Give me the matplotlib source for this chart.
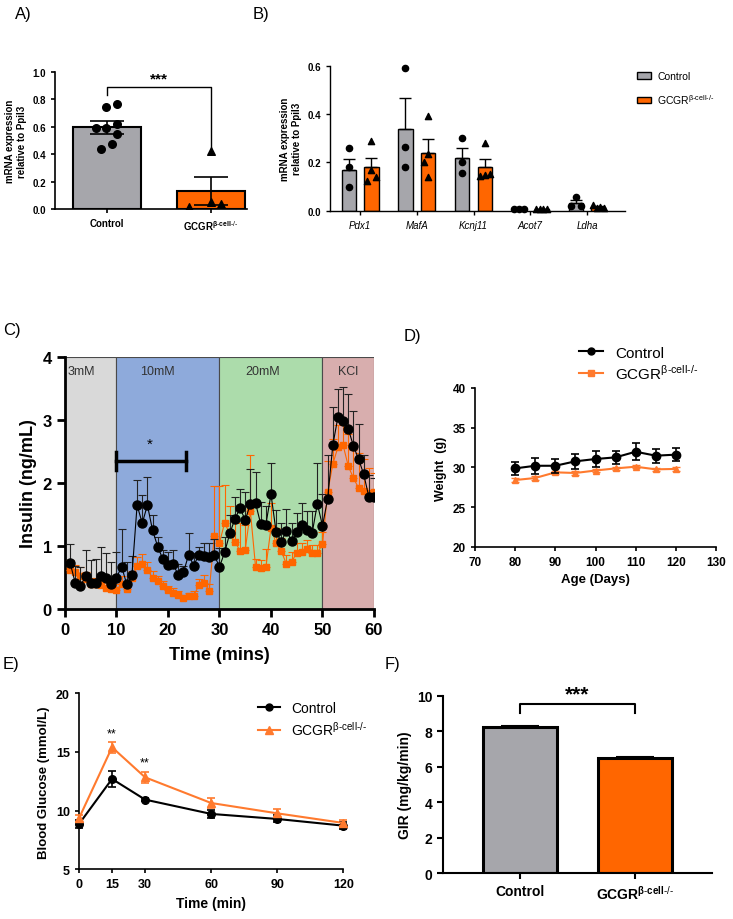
import matplotlib
matplotlib.use('Agg')
import matplotlib.pyplot as plt
from matplotlib.lines import Line2D
from matplotlib.patches import Patch
import numpy as np

plt.rcParams['font.family'] = ['Liberation Sans', 'DejaVu Sans']
plt.rcParams['mathtext.fontset'] = 'custom'
plt.rcParams['mathtext.rm'] = 'Liberation Sans'
plt.rcParams['mathtext.bf'] = 'Liberation Sans:bold'

GRAY = '#a6a6ab'
ORANGE = '#ff6600'
ORANGE_L = '#ff7a2e'
KO = r'GCGR$^{\mathregular{β}\text{-}\mathregular{cell}\text{-/-}}$'

# ---------------- data ----------------
# A
a_groups = ['Control', KO]
a_means = [0.595, 0.134]
a_sem = [0.045, 0.10]
a_ctrl_pts = [0.74, 0.765, 0.59, 0.59, 0.62, 0.55, 0.475, 0.44]
a_ko_pts = [0.426, 0.02, 0.05, 0.04]

# B
b_genes = ['Pdx1', 'MafA', 'Kcnj11', 'Acot7', 'Ldha']
b_ctrl_mean = [0.167, 0.337, 0.22, 0.008, 0.031]
b_ctrl_sem = [0.048, 0.13, 0.04, 0.002, 0.012]
b_ko_mean = [0.18, 0.24, 0.18, 0.006, 0.015]
b_ko_sem = [0.037, 0.055, 0.033, 0.002, 0.004]
b_ctrl_pts = [[0.259, 0.18, 0.097], [0.59, 0.262, 0.18], [0.30, 0.20, 0.158],
              [0.008, 0.008, 0.008], [0.018, 0.058, 0.018]]
b_ko_pts = [[0.29, 0.124, 0.138, 0.17], [0.39, 0.234, 0.20, 0.14],
            [0.28, 0.145, 0.148, 0.15], [0.006, 0.006, 0.006, 0.006],
            [0.022, 0.012, 0.015, 0.010]]

# C (perifusion, minutes 1..60)
c_time = list(range(1, 61))
c_ctrl = [0.73, 0.41, 0.37, 0.52, 0.42, 0.42, 0.53, 0.49, 0.39, 0.50,
          0.67, 0.39, 0.54, 1.65, 1.36, 1.65, 1.25, 0.99, 0.79, 0.70,
          0.71, 0.54, 0.58, 0.86, 0.69, 0.86, 0.84, 0.83, 0.85, 0.67,
          0.90, 1.20, 1.43, 1.60, 1.41, 1.67, 1.68, 1.35, 1.34, 1.82,
          1.22, 1.07, 1.24, 1.08, 1.22, 1.33, 1.25, 1.21, 1.67, 1.32,
          1.75, 2.60, 3.05, 2.98, 2.86, 2.59, 2.38, 2.14, 1.78, 1.78]
c_ctrl_err = [0.30, 0.28, 0.30, 0.42, 0.36, 0.38, 0.45, 0.40, 0.35, 0.40,
              0.60, 0.35, 0.30, 0.40, 0.45, 0.45, 0.25, 0.15, 0.15, 0.20,
              0.23, 0.17, 0.10, 0.35, 0.20, 0.12, 0.20, 0.22, 0.26, 0.30,
              0.25, 0.30, 0.35, 0.30, 0.45, 0.55, 0.50, 0.35, 0.30, 0.50,
              0.35, 0.30, 0.35, 0.28, 0.30, 0.35, 0.30, 0.35, 0.65, 0.50,
              0.70, 0.60, 0.45, 0.55, 0.55, 0.55, 0.55, 0.30, 0.35, 0.30]
c_ko = [0.62, 0.58, 0.52, 0.47, 0.40, 0.40, 0.38, 0.33, 0.32, 0.30,
        0.40, 0.32, 0.50, 0.68, 0.72, 0.62,
        0.50, 0.44, 0.36, 0.30, 0.26, 0.22, 0.17, 0.20, 0.21, 0.38, 0.42, 0.29, 1.16,
        1.05, 1.37, 1.19, 1.07, 0.92, 0.94, 1.55, 0.67, 0.65, 0.66, 1.29,
        1.04, 0.92, 0.71, 0.75, 0.89, 0.90, 0.95, 0.89, 0.89, 1.03,
        1.85, 2.30, 2.57, 2.60, 2.27, 2.08, 1.92, 1.88, 1.84, 1.86]
c_ko_err = [0.15, 0.12, 0.15, 0.12, 0.10, 0.10, 0.12, 0.10, 0.10, 0.10,
            0.12, 0.10, 0.10, 0.15, 0.15, 0.12,
            0.10, 0.08, 0.08, 0.07, 0.07, 0.06, 0.06, 0.06, 0.08, 0.10, 0.12, 0.10, 0.80,
            0.90, 0.60, 0.45, 0.35, 0.45, 0.40, 0.90, 0.12, 0.12, 0.30, 0.40,
            0.25, 0.20, 0.15, 0.15, 0.15, 0.15, 0.15, 0.12, 0.12, 0.20,
            0.50, 0.40, 0.35, 0.40, 0.50, 0.45, 0.55, 0.50, 0.40, 0.30]
c_phases = ['3mM', '10mM', '20mM', 'KCl']
c_phase_edges = [0, 10, 30, 50, 60]
c_phase_colors = ['#d9d9d9', '#8eaadb', '#acdcab', '#d8aeae']

# D
d_age = [80, 85, 90, 95, 100, 105, 110, 115, 120]
d_ctrl = [29.87, 30.2, 30.2, 30.76, 31.05, 31.26, 31.97, 31.47, 31.6]
d_ctrl_err = [0.85, 0.98, 0.85, 0.92, 0.95, 0.85, 1.05, 0.9, 0.85]
d_ko = [28.4, 28.66, 29.37, 29.29, 29.6, 29.87, 30.08, 29.75, 29.8]
d_ko_err = [0.2, 0.2, 0.2, 0.2, 0.2, 0.2, 0.2, 0.2, 0.2]

# E
e_time = [0, 15, 30, 60, 90, 120]
e_ctrl = [8.86, 12.7, 10.94, 9.72, 9.29, 8.72]
e_ctrl_err = [0.35, 0.65, 0.15, 0.35, 0.3, 0.3]
e_ko = [9.35, 15.4, 12.84, 10.65, 9.77, 8.95]
e_ko_err = [0.3, 0.45, 0.45, 0.45, 0.35, 0.25]

# F
f_groups = ['Control', KO]
f_means = [8.25, 6.5]
f_sem = [0.05, 0.05]

# ---------------- figure ----------------
W, H = 733, 920
fig = plt.figure(figsize=(W / 100, H / 100), dpi=100)


def add_ax(l, r, t, b):
    return fig.add_axes([l / W, 1 - b / H, (r - l) / W, (b - t) / H])


def style(ax, lw=1.2, tl=3, fs=7):
    for s in ['top', 'right']:
        ax.spines[s].set_visible(False)
    for s in ['left', 'bottom']:
        ax.spines[s].set_linewidth(lw)
    ax.tick_params(width=lw, length=tl, labelsize=fs, direction='out')
    for lab in ax.get_xticklabels() + ax.get_yticklabels():
        lab.set_fontweight('bold')


def plabel(x, y, s):
    fig.text(x / W, 1 - y / H, s, fontsize=12, va='center', ha='left')


# ---- A ----
axA = add_ax(55, 247, 72.7, 210.3)
xa = np.arange(len(a_groups))
axA.bar(xa, a_means, width=0.66, color=[GRAY, ORANGE], edgecolor='black', lw=1.5, zorder=2)
axA.errorbar(xa, a_means, yerr=a_sem, fmt='none', ecolor='black', capsize=12,
             elinewidth=1.2, capthick=1.2, zorder=3)
a_ctrl_jit = [-0.008, 0.098, -0.11, -0.008, 0.098, 0.098, 0.05, -0.056]
a_ko_jit = [0.0, -0.21, 0.0, 0.1]
axA.scatter(xa[0] + np.array(a_ctrl_jit), a_ctrl_pts, s=30, color='black', zorder=4)
axA.scatter(xa[1] + np.array(a_ko_jit), a_ko_pts, s=30, marker='^', color='black', zorder=4)
axA.set_xlim(-0.505, 1.35)
axA.set_ylim(0, 1.0)
axA.set_yticks([0, 0.2, 0.4, 0.6, 0.8, 1.0])
axA.yaxis.set_major_formatter(matplotlib.ticker.FormatStrFormatter('%.1f'))
axA.set_xticks(xa)
axA.set_xticklabels(a_groups)
style(axA, lw=1.2, fs=7)
axA.set_ylabel('mRNA expression\nrelative to Ppil3', fontsize=7, fontweight='bold')
axA.plot([0, 0, 1, 1], [0.83, 0.89, 0.89, 0.43], color='black', lw=1)
axA.text(0.5, 0.9, '***', ha='center', va='bottom', fontsize=11, fontweight='bold')
plabel(15, 15, 'A)')

# ---- B ----
axB = add_ax(330, 625, 66.7, 211.7)
xb = np.arange(len(b_genes))
off, bw = 0.2, 0.25
axB.bar(xb - off, b_ctrl_mean, width=bw, color=GRAY, edgecolor='black', lw=1, zorder=2)
axB.bar(xb + off, b_ko_mean, width=bw, color=ORANGE, edgecolor='black', lw=1, zorder=2)
axB.errorbar(xb - off, b_ctrl_mean, yerr=[np.zeros(5), b_ctrl_sem], fmt='none',
             ecolor='black', capsize=4, elinewidth=1, capthick=1, zorder=3)
axB.errorbar(xb + off, b_ko_mean, yerr=[np.zeros(5), b_ko_sem], fmt='none',
             ecolor='black', capsize=4, elinewidth=1, capthick=1, zorder=3)
b_ctrl_jit = [[0, 0, 0], [0, 0, 0], [0, 0, 0], [-0.09, 0, 0.09], [-0.09, 0, 0.09]]
b_ko_jit = [[0, -0.08, 0.08, 0], [0, 0, -0.08, 0], [0, -0.09, 0, 0.09],
            [-0.1, -0.03, 0.03, 0.1], [-0.1, -0.03, 0.03, 0.1]]
for i in range(len(b_genes)):
    axB.scatter(xb[i] - off + np.array(b_ctrl_jit[i]), b_ctrl_pts[i], s=20, color='black',
                zorder=4, clip_on=False)
    axB.scatter(xb[i] + off + np.array(b_ko_jit[i]), b_ko_pts[i], s=20, marker='^',
                color='black', zorder=4, clip_on=False)
axB.set_xlim(-0.53, 4.67)
axB.set_ylim(0, 0.6)
axB.set_yticks([0, 0.2, 0.4, 0.6])
axB.yaxis.set_major_formatter(matplotlib.ticker.FormatStrFormatter('%.1f'))
axB.set_xticks(xb)
axB.set_xticklabels(b_genes)
style(axB, lw=1, fs=7)
for lab in axB.get_xticklabels():
    lab.set_fontweight('normal')
    lab.set_fontstyle('italic')
axB.set_ylabel('mRNA expression\nrelative to Ppil3', fontsize=7, fontweight='bold')
hB = [Patch(facecolor=GRAY, edgecolor='black', label='Control'),
      Patch(facecolor=ORANGE, edgecolor='black', label=KO)]
fig.legend(handles=hB, loc='upper left', bbox_to_anchor=(628 / W, 1 - 63 / H),
           frameon=False, fontsize=7.5, handlelength=1.3, handleheight=0.6,
           labelspacing=1.0, handletextpad=0.6)
plabel(253, 15, 'B)')

# ---- C ----
axC = add_ax(65, 374, 358, 610)
for i, name in enumerate(c_phases):
    x0, x1 = c_phase_edges[i], c_phase_edges[i + 1]
    axC.axvspan(x0, x1, facecolor=c_phase_colors[i], edgecolor='#4a4a4a', lw=0.8, zorder=0)
c_lab_x = [0.5, 18, 38.3, 54.9]
c_lab_ha = ['left', 'center', 'center', 'center']
for i, name in enumerate(c_phases):
    axC.text(c_lab_x[i], 3.78, name, ha=c_lab_ha[i], va='center', fontsize=9, color='#333333')
axC.errorbar(c_time, c_ko, yerr=[np.zeros(60), c_ko_err], color=ORANGE, marker='s', ms=5,
             lw=0.8, elinewidth=0.8, capsize=3, capthick=0.8, zorder=3)
axC.errorbar(c_time, c_ctrl, yerr=[np.zeros(60), c_ctrl_err], color='black', marker='o', ms=6.5,
             lw=0.8, elinewidth=0.8, capsize=3, capthick=0.8, ecolor='#222222', zorder=4)
axC.plot([10, 23.4], [2.35, 2.35], color='black', lw=2.5, zorder=5)
axC.plot([10, 10], [2.2, 2.5], color='black', lw=2.5, zorder=5)
axC.plot([23.4, 23.4], [2.2, 2.5], color='black', lw=2.5, zorder=5)
axC.text(16.5, 2.62, '*', ha='center', va='center', fontsize=11)
axC.set_xlim(0, 60)
axC.set_ylim(0, 4)
axC.set_xticks([0, 10, 20, 30, 40, 50, 60])
axC.set_yticks([0, 1, 2, 3, 4])
style(axC, lw=2, tl=6, fs=12)
axC.set_xlabel('Time (mins)', fontsize=13, fontweight='bold', labelpad=6)
axC.set_ylabel('Insulin (ng/mL)', fontsize=13, fontweight='bold')
plabel(3, 331, 'C)')

# ---- D ----
axD = add_ax(475, 716, 389, 547.7)
axD.errorbar(d_age, d_ko, yerr=d_ko_err, color=ORANGE_L, marker='^', ms=5, lw=1.5,
             elinewidth=1, capsize=3, zorder=3)
axD.errorbar(d_age, d_ctrl, yerr=d_ctrl_err, color='black', marker='o', ms=6, lw=1.5,
             elinewidth=1.2, capsize=3, capthick=1.2, zorder=4)
axD.set_xlim(70, 130)
axD.set_ylim(20, 40)
axD.set_xticks([70, 80, 90, 100, 110, 120, 130])
axD.set_yticks([20, 25, 30, 35, 40])
style(axD, lw=1.2, fs=8.5)
axD.set_xlabel('Age (Days)', fontsize=9.5, fontweight='bold')
axD.set_ylabel('Weight  (g)', fontsize=9, fontweight='bold')
hD = [Line2D([], [], color='black', marker='o', ms=5, lw=1.5, label='Control'),
      Line2D([], [], color=ORANGE_L, marker='s', ms=5, lw=1.5, label=KO)]
fig.legend(handles=hD, loc='upper left', bbox_to_anchor=(565 / W, 1 - 333 / H),
           frameon=False, fontsize=11, handlelength=1.6, labelspacing=0.2)
plabel(404, 337, 'D)')

# ---- E ----
axE = add_ax(79, 343.3, 694.3, 870.3)
axE.errorbar(e_time, e_ctrl, yerr=e_ctrl_err, color='black', marker='o', ms=5.5, lw=1.5,
             elinewidth=1.2, capsize=3, capthick=1.2, zorder=3, clip_on=False)
axE.errorbar(e_time, e_ko, yerr=e_ko_err, color=ORANGE_L, marker='^', ms=6, lw=1.5,
             elinewidth=1.2, capsize=3, capthick=1.2, zorder=4, clip_on=False)
axE.text(15, 16.1, '**', ha='center', va='bottom', fontsize=9)
axE.text(30, 13.6, '**', ha='center', va='bottom', fontsize=9)
axE.set_xlim(0, 120)
axE.set_ylim(5, 20)
axE.set_xticks(e_time)
axE.set_yticks([5, 10, 15, 20])
style(axE, lw=1.2, fs=9)
axE.set_xlabel('Time (min)', fontsize=10, fontweight='bold')
axE.set_ylabel('Blood Glucose (mmol/L)', fontsize=9.5, fontweight='bold')
axE.legend(handles=[Line2D([], [], color='black', marker='o', ms=5, lw=1.5, label='Control'),
                    Line2D([], [], color=ORANGE_L, marker='^', ms=6, lw=1.5, label=KO)],
           loc='upper left', bbox_to_anchor=(0.63, 1.03), frameon=False, fontsize=10,
           handlelength=1.6, labelspacing=0.4)
plabel(3, 664, 'E)')

# ---- F ----
axF = add_ax(443, 712, 696.7, 874.3)
xf = np.arange(len(f_groups))
axF.bar(xf, f_means, width=0.643, color=[GRAY, ORANGE], edgecolor='black', lw=2.2, zorder=2)
axF.errorbar(xf, f_means, yerr=[np.zeros(2), f_sem], fmt='none', ecolor='black',
             capsize=14, elinewidth=1.5, capthick=1.5, zorder=3)
axF.plot([0, 0, 1, 1], [9.0, 9.55, 9.55, 9.0], color='black', lw=1.5)
axF.text(0.5, 9.55, '***', ha='center', va='bottom', fontsize=15, fontweight='bold')
axF.set_xlim(-0.67, 1.67)
axF.set_ylim(0, 10)
axF.set_yticks([0, 2, 4, 6, 8, 10])
axF.set_xticks(xf)
axF.set_xticklabels(f_groups)
style(axF, lw=1.5, tl=4, fs=10)
axF.set_ylabel('GIR (mg/kg/min)', fontsize=10, fontweight='bold')
plabel(385, 664, 'F)')

fig.savefig('out.png', dpi=100)
